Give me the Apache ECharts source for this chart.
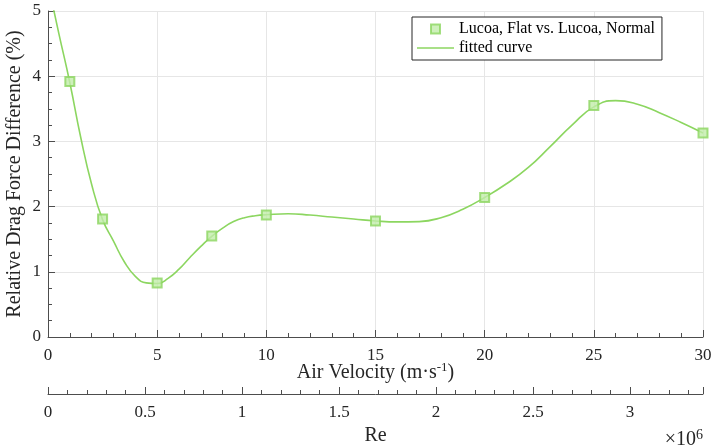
<!DOCTYPE html>
<html>
<head>
<meta charset="utf-8">
<style>
  html, body { margin: 0; padding: 0; background: #ffffff; }
  #chart { width: 714px; height: 448px; }
</style>
<script src="https://cdn.jsdelivr.net/npm/echarts@6/dist/echarts.min.js"></script>
</head>
<body>
<div id="chart"></div>
<script>
// ---- data ----
const velocity = [1, 2.5, 5, 7.5, 10, 15, 20, 25, 30];
const dragDiff = [3.92, 1.81, 0.83, 1.55, 1.87, 1.78, 2.14, 3.55, 3.13];

// fitted curve
const fitVelocity = [0, 0.5, 1, 1.5, 2, 2.5, 3, 3.5, 4, 4.5, 5, 5.5, 6, 6.5, 7, 7.5, 8, 8.5, 9, 9.5, 10,
                     11, 12, 13, 14, 15, 16, 17, 18, 19, 20, 21, 22, 23, 24, 25, 26, 27, 28, 29, 30];
const fitDiff     = [5.42, 4.65, 3.90, 3.06, 2.34, 1.80, 1.47, 1.15, 0.93, 0.83, 0.82, 0.90, 1.04, 1.22, 1.39, 1.545, 1.67, 1.77, 1.83, 1.86, 1.875,
                     1.89, 1.87, 1.84, 1.81, 1.78, 1.765, 1.77, 1.83, 1.96, 2.14, 2.35, 2.60, 2.92, 3.25, 3.53, 3.625, 3.57, 3.44, 3.29, 3.13];

const velocityTicks = { min: 0, max: 30, interval: 5 };
const reTicks = { min: 0, max: 3.376e6, interval: 0.5e6 };
const diffTicks = { min: 0, max: 5, interval: 1 };

const seriesNames = ['Lucoa, Flat vs. Lucoa, Normal', 'fitted curve'];

// ---- styles ----
const FONT = 'Liberation Serif';
const GREEN = '#8cd660';
const AXIS = '#4d4d4d';
const TXT = '#262626';

const chart = echarts.init(document.getElementById('chart'), null, { renderer: 'canvas' });

const pts = velocity.map((v, i) => [v, dragDiff[i]]);
const fit = fitVelocity.map((v, i) => [v, fitDiff[i]]);

const commonX = {
  type: 'value',
  position: 'bottom',
  axisLine: { show: true, onZero: false, lineStyle: { color: AXIS, width: 1 } },
  axisTick: { show: true, inside: true, length: 7, lineStyle: { color: AXIS } },
  minorTick: { show: true, splitNumber: 5, length: 4, lineStyle: { color: AXIS } },
  axisLabel: { color: TXT, fontFamily: FONT, fontSize: 17, margin: 10 },
  nameLocation: 'middle'
};

chart.setOption({
  animation: false,
  backgroundColor: '#ffffff',
  grid: { left: 48, right: 11, top: 11, bottom: 111, containLabel: false, outerBoundsMode: 'none' },
  legend: {
    orient: 'vertical',
    left: 412, top: 17,
    padding: [3, 7, 3, 5],
    itemGap: 1,
    itemWidth: 37,
    itemHeight: 9,
    backgroundColor: '#ffffff',
    borderColor: '#262626',
    borderWidth: 1,
    borderRadius: 0,
    selectedMode: false,
    symbolKeepAspect: true,
    textStyle: { fontFamily: FONT, fontSize: 16, color: '#000000', lineHeight: 18 },
    data: [
      { name: seriesNames[0], icon: 'path://M0,0h10v10h-10z' },
      { name: seriesNames[1], icon: 'path://M0,0h37v1.6h-37z' }
    ]
  },
  xAxis: [
    Object.assign({}, commonX, {
      min: velocityTicks.min, max: velocityTicks.max, interval: velocityTicks.interval,
      splitLine: { show: true, lineStyle: { color: '#e6e6e6', width: 1 } },
      name: '{a|Air Velocity (m·s}{s|-1}{a|)}',
      nameGap: 24,
      nameMoveOverlap: false,
      nameTextStyle: {
        color: TXT, fontFamily: FONT,
        rich: {
          a: { fontFamily: FONT, fontSize: 20, lineHeight: 24, color: TXT, verticalAlign: 'middle' },
          s: { fontFamily: FONT, fontSize: 13, lineHeight: 14, color: TXT, verticalAlign: 'top' }
        }
      }
    }),
    Object.assign({}, commonX, {
      offset: 57,
      min: reTicks.min, max: reTicks.max, interval: reTicks.interval,
      splitLine: { show: false },
      axisLabel: {
        color: TXT, fontFamily: FONT, fontSize: 17, margin: 10,
        showMaxLabel: false,
        formatter: function (v) { return String(Math.round(v / 1e5) / 10); }
      },
      name: 'Re',
      nameGap: 30,
      nameTextStyle: { color: TXT, fontFamily: FONT, fontSize: 20 }
    })
  ],
  yAxis: {
    type: 'value',
    min: diffTicks.min, max: diffTicks.max, interval: diffTicks.interval,
    axisLine: { show: true, onZero: false, lineStyle: { color: AXIS, width: 1 } },
    axisTick: { show: true, inside: true, length: 7, lineStyle: { color: AXIS } },
    minorTick: { show: true, splitNumber: 4, length: 4, lineStyle: { color: AXIS } },
    splitLine: { show: true, lineStyle: { color: '#e6e6e6', width: 1 } },
    axisLabel: { color: TXT, fontFamily: FONT, fontSize: 17, margin: 7 },
    name: 'Relative Drag Force Difference (%)',
    nameLocation: 'middle',
    nameGap: 23,
    nameMoveOverlap: false,
    nameTextStyle: { color: TXT, fontFamily: FONT, fontSize: 20 }
  },
  graphic: [{
    type: 'text',
    right: 11,
    top: 428,
    style: {
      text: '{a|×10}{s|6}',
      rich: {
        a: { fontFamily: FONT, fontSize: 20, lineHeight: 24, fill: TXT, verticalAlign: 'middle' },
        s: { fontFamily: FONT, fontSize: 14, lineHeight: 15, fill: TXT, verticalAlign: 'top' }
      }
    }
  }],
  series: [
    {
      name: seriesNames[1],
      type: 'line',
      xAxisIndex: 0,
      data: fit,
      smooth: 0.5,
      symbol: 'none',
      clip: true,
      lineStyle: { color: GREEN, width: 1.6 },
      itemStyle: { color: GREEN },
      z: 2
    },
    {
      name: seriesNames[0],
      type: 'scatter',
      xAxisIndex: 0,
      data: pts,
      symbol: 'rect',
      symbolSize: 9,
      itemStyle: { color: '#c2ecaa', borderColor: GREEN, borderWidth: 2 },
      z: 3
    }
  ]
});
</script>
</body>
</html>
